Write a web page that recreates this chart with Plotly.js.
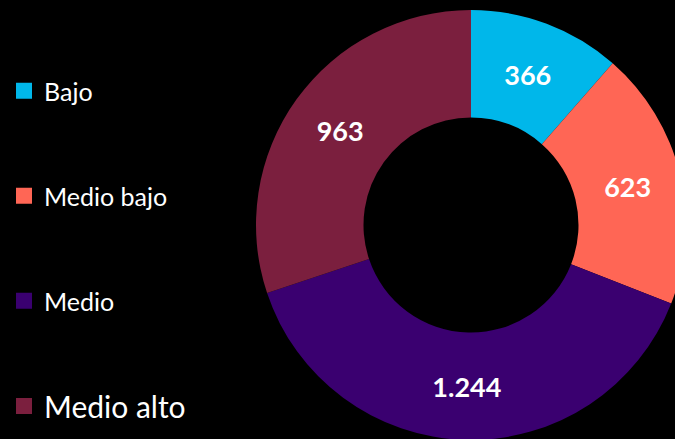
<!DOCTYPE html>
<html>
<head>
<meta charset="utf-8">
<script src="https://cdn.plot.ly/plotly-3.0.1.min.js"></script>
<style>
html,body{margin:0;padding:0;background:#000;overflow:hidden;width:675px;height:439px;}
#chart{width:700px;height:450px;}
</style>
</head>
<body>
<div id="chart"></div>
<script>
const categories = ['Bajo', 'Medio bajo', 'Medio', 'Medio alto'];
const values = [366, 623, 1244, 963];
const colors = ['#00B7EA', '#FF6655', '#3A0070', '#7B1F3E'];
const legendFontSizes = [25, 25, 25, 30];
const legendCenters = [91, 196, 301, 406]; // px from top

const W = 700, H = 450;
const FONT = 'Lato, "Open Sans", sans-serif';

const pie = {
  type: 'pie',
  labels: categories,
  values: values,
  marker: {colors: colors, line: {width: 0}},
  sort: false,
  direction: 'clockwise',
  rotation: 0,
  hole: 0.5,
  textinfo: 'value',
  texttemplate: '%{value:,}',
  textposition: 'inside',
  insidetextorientation: 'horizontal',
  textfont: {family: FONT, size: 27, color: '#ffffff', weight: 'bold'},
  showlegend: false,
  hoverinfo: 'label+value',
  domain: {x: [256 / W, 686 / W], y: [(H - 440) / H, (H - 10) / H]}
};

const legendTraces = categories.map((c, i) => ({
  type: 'scatter',
  x: [null], y: [null],
  mode: 'markers',
  name: c,
  marker: {symbol: 'square', size: 18, color: colors[i]},
  legend: i === 0 ? 'legend' : 'legend' + (i + 1),
  showlegend: true,
  hoverinfo: 'skip'
}));

const layout = {
  width: W, height: H,
  margin: {l: 0, r: 0, t: 0, b: 0},
  paper_bgcolor: '#000000',
  plot_bgcolor: '#000000',
  separators: ',.',
  xaxis: {visible: false, domain: [0, 0.01]},
  yaxis: {visible: false, domain: [0, 0.01]},
  font: {family: FONT, color: '#ffffff'}
};
categories.forEach((c, i) => {
  const key = i === 0 ? 'legend' : 'legend' + (i + 1);
  layout[key] = {
    x: 4 / W, xanchor: 'left',
    y: 1 - legendCenters[i] / H, yanchor: 'middle',
    bgcolor: 'rgba(0,0,0,0)',
    font: {family: FONT, size: legendFontSizes[i], color: '#ffffff'}
  };
});

Plotly.newPlot('chart', [pie].concat(legendTraces), layout, {displayModeBar: false, staticPlot: true});
</script>
</body>
</html>
